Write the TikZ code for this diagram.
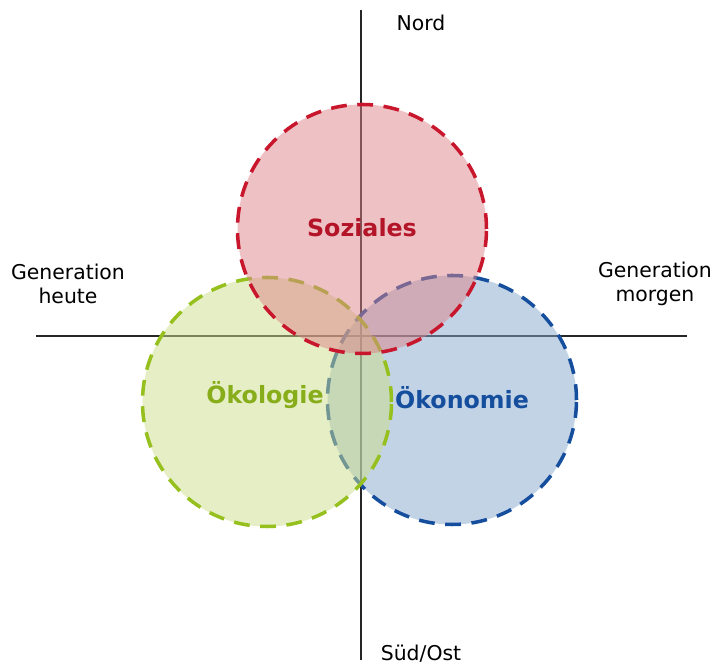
\documentclass[tikz,border=0pt]{standalone}
\usepackage{fontspec}
\setmainfont{DejaVu Sans}
\usetikzlibrary{positioning}

\definecolor{sozrot}{RGB}{200,22,44}
\definecolor{sozfill}{RGB}{221,131,137}
\definecolor{oekgruen}{RGB}{150,192,30}
\definecolor{oekfill}{RGB}{204,222,138}
\definecolor{oekoblau}{RGB}{22,78,158}
\definecolor{oekofill}{RGB}{133,167,205}

\tikzset{
  kreis/.style={line width=2pt, dash pattern=on 9pt off 6pt, fill opacity=0.5},
  achse/.style={line width=0.8pt, black!85},
  beschr/.style={font=\fontsize{11.6}{14}\selectfont, align=center, inner sep=0pt},
  titel/.style={font=\fontsize{13.5}{16}\selectfont\bfseries, inner sep=0pt}
}

\begin{document}
\begin{tikzpicture}[x=2cm,y=2cm]
        \useasboundingbox (-3.61,-3.30) rectangle (3.54,3.36);
        % Achsen
        \coordinate (oben) at (0,3.26);
        \coordinate (unten) at (0,-3.24);
        \coordinate (links) at (-3.25,0);
        \coordinate (rechts) at (3.26,0);
        \draw[achse] (oben) -- (unten);
        \draw[achse] (links) -- (rechts);
        % Kreise
        \filldraw[kreis, draw=oekoblau, fill=oekofill] (0.91,-0.64) circle (1.245);
        \filldraw[kreis, draw=oekgruen, fill=oekfill] (-0.94,-0.66) circle (1.245);
        \filldraw[kreis, draw=sozrot, fill=sozfill] (0.01,1.07) circle (1.245);
        % Beschriftung
        \node[titel, text=sozrot!90!black] (soz) at (0.01,1.08) {Soziales};
        \node[titel, text=oekgruen!90!black] (oek) at (-0.96,-0.59) {Ökologie};
        \node[titel, text=oekoblau] (oeko) at (1.01,-0.62) {Ökonomie};
        \node[beschr] (nord) at (0.60,3.13) {Nord};
        \node[beschr] (sued) at (0.60,-3.18) {Süd/Ost};
        \node[beschr] (heute) at (-2.93,0.52) {Generation\\heute};
        \node[beschr] (morgen) at (2.94,0.52) {Generation\\morgen};
\end{tikzpicture}
\end{document}
